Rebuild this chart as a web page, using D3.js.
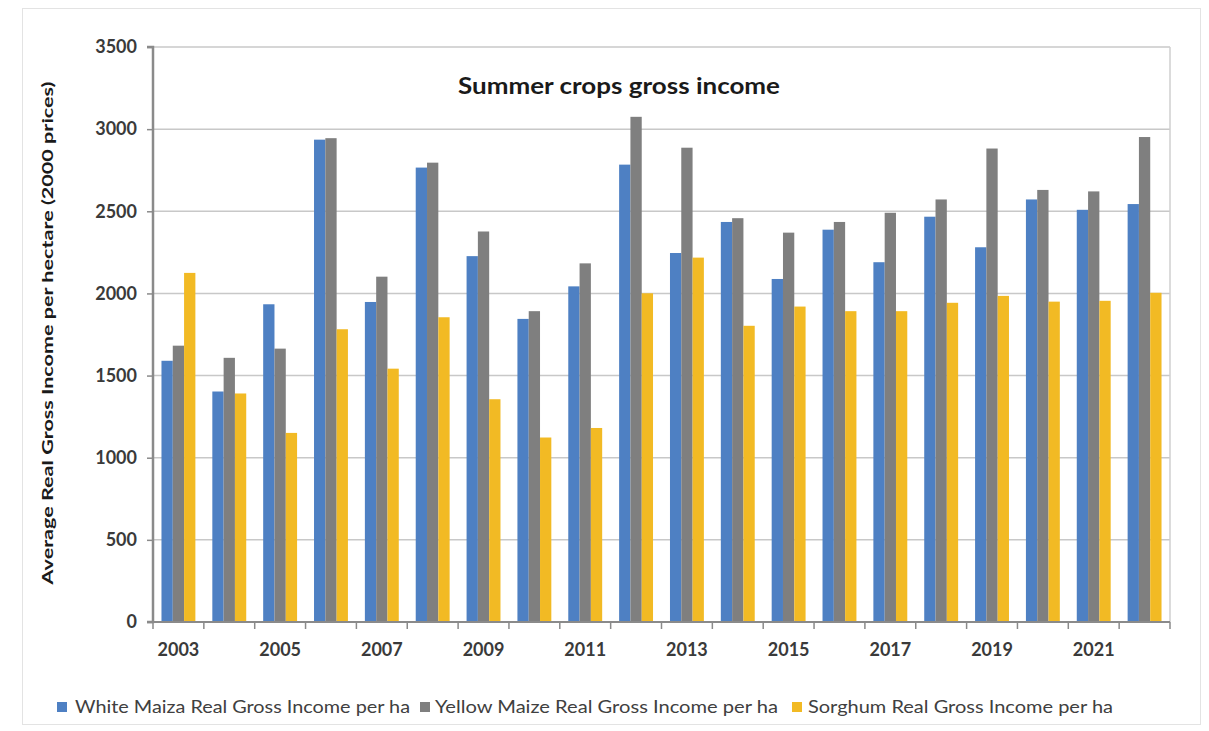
<!DOCTYPE html>
<html>
<head>
<meta charset="utf-8">
<script src="https://cdn.jsdelivr.net/npm/d3@7"></script>
<style>
  html, body { margin: 0; padding: 0; background: #ffffff; }
  svg { display: block; }
  text { font-family: Lato, "Open Sans", sans-serif; }
</style>
</head>
<body>
<svg id="chart" width="1209" height="731"></svg>
<script>
const years = [2003,2004,2005,2006,2007,2008,2009,2010,2011,2012,2013,2014,2015,2016,2017,2018,2019,2020,2021,2022];
const whiteMaize  = [1590,1403,1934,2936,1948,2766,2227,1845,2043,2784,2246,2435,2088,2388,2190,2467,2281,2572,2509,2544];
const yellowMaize = [1682,1608,1664,2945,2102,2796,2377,1892,2183,3075,2887,2458,2370,2435,2491,2572,2882,2630,2621,2952];
const sorghum     = [2125,1391,1151,1782,1542,1855,1356,1123,1181,2001,2218,1803,1920,1892,1892,1943,1985,1950,1955,2004];
const seriesNames = ["White Maiza Real Gross Income per ha","Yellow Maize Real Gross Income per ha","Sorghum Real Gross Income per ha"];
const seriesColors = ["#4e80c3","#7f7f7f","#f2ba24"];
const yTicks = [0,500,1000,1500,2000,2500,3000,3500];
const xLabelYears = [2003,2005,2007,2009,2011,2013,2015,2017,2019,2021];
const chartTitle = "Summer crops gross income";
const yTitle = "Average Real Gross Income per hectare (2000 prices)";

const svg = d3.select("#chart");
const m = {left: 153, right: 1170, top: 47, bottom: 622};

// outer frame
svg.append("rect").attr("x", 22.5).attr("y", 8.5).attr("width", 1178).attr("height", 716)
  .attr("fill", "#fff").attr("stroke", "#e3e3e3").attr("stroke-width", 1);

const x0 = d3.scaleBand().domain(years).range([m.left, m.right]).paddingInner(0).paddingOuter(0);
const gapRatio = 1.5;
const barW = x0.bandwidth() / (3 + gapRatio);
const x1 = d3.scaleBand().domain([0,1,2]).range([barW*gapRatio/2, barW*gapRatio/2 + 3*barW]).padding(0);
const y = d3.scaleLinear().domain([0, 3500]).range([m.bottom, m.top]);

// gridlines
svg.append("g").selectAll("line").data(yTicks.filter(d => d > 0)).join("line")
  .attr("x1", m.left).attr("x2", m.right)
  .attr("y1", d => y(d)).attr("y2", d => y(d))
  .attr("stroke", "#c8c8c8").attr("stroke-width", 1.5);

// plot right border
svg.append("line").attr("x1", m.right).attr("x2", m.right).attr("y1", m.top).attr("y2", m.bottom)
  .attr("stroke", "#cfcfcf").attr("stroke-width", 1.5);

// bars
const data = years.map((yr, i) => ({year: yr, vals: [whiteMaize[i], yellowMaize[i], sorghum[i]]}));
const groups = svg.append("g").selectAll("g").data(data).join("g")
  .attr("transform", d => `translate(${x0(d.year)},0)`);
groups.selectAll("rect").data(d => d.vals.map((v, k) => ({v, k}))).join("rect")
  .attr("x", d => x1(d.k)).attr("width", x1.bandwidth())
  .attr("y", d => y(d.v)).attr("height", d => y(0) - y(d.v))
  .attr("fill", d => seriesColors[d.k]);

// y axis
const yAxis = d3.axisLeft(y).tickValues(yTicks).tickSize(6).tickPadding(10).tickFormat(d3.format("d"));
const gy = svg.append("g").attr("transform", `translate(${m.left},0)`).call(yAxis);
gy.select(".domain").attr("stroke", "#8a8a8a").attr("stroke-width", 2.5).attr("d", `M-6,${m.top}H0V${m.bottom}H-6`);
gy.selectAll(".tick line").attr("stroke", "#8a8a8a").attr("stroke-width", 1.5);
gy.selectAll(".tick text").attr("fill", "#3a3a3a").attr("font-size", 18).attr("font-weight", 700)
  .attr("font-family", "Lato, sans-serif");

// x axis
const xAxis = d3.axisBottom(x0).tickSize(0).tickPadding(21)
  .tickFormat(d => xLabelYears.includes(d) ? String(d) : "");
const gx = svg.append("g").attr("transform", `translate(0,${m.bottom})`).call(xAxis);
gx.select(".domain").attr("stroke", "#8a8a8a").attr("stroke-width", 2).attr("d", `M${m.left},0H${m.right}`);
gx.selectAll(".tick text").attr("fill", "#3a3a3a").attr("font-size", 18).attr("font-weight", 700)
  .attr("font-family", "Lato, sans-serif");
// category boundary ticks
const bounds = years.map(yr => x0(yr)).concat([m.right]);
gx.append("g").selectAll("line").data(bounds).join("line")
  .attr("x1", d => d).attr("x2", d => d).attr("y1", 0).attr("y2", 7)
  .attr("stroke", "#8a8a8a").attr("stroke-width", 1.5);

// title
svg.append("text").attr("x", 619).attr("y", 94).attr("text-anchor", "middle")
  .attr("font-size", 22).attr("font-weight", 700).attr("fill", "#1a1a1a")
  .attr("textLength", 322).attr("lengthAdjust", "spacingAndGlyphs")
  .text(chartTitle);

// y title
svg.append("text").attr("transform", "translate(53,333) rotate(-90)").attr("text-anchor", "middle")
  .attr("font-size", 16).attr("font-weight", 700).attr("fill", "#1a1a1a")
  .attr("textLength", 503).attr("lengthAdjust", "spacingAndGlyphs")
  .text(yTitle);

// legend
const legendItems = [
  {sx: 57, tx: 75, len: 335},
  {sx: 420, tx: 435, len: 343},
  {sx: 792, tx: 808, len: 305}
];
const lg = svg.append("g");
legendItems.forEach((it, k) => {
  lg.append("rect").attr("x", it.sx).attr("y", 702).attr("width", 10).attr("height", 10).attr("fill", seriesColors[k]);
  lg.append("text").attr("x", it.tx).attr("y", 713).attr("font-size", 17).attr("fill", "#404040")
    .attr("textLength", it.len).attr("lengthAdjust", "spacingAndGlyphs")
    .text(seriesNames[k]);
});
</script>
</body>
</html>
